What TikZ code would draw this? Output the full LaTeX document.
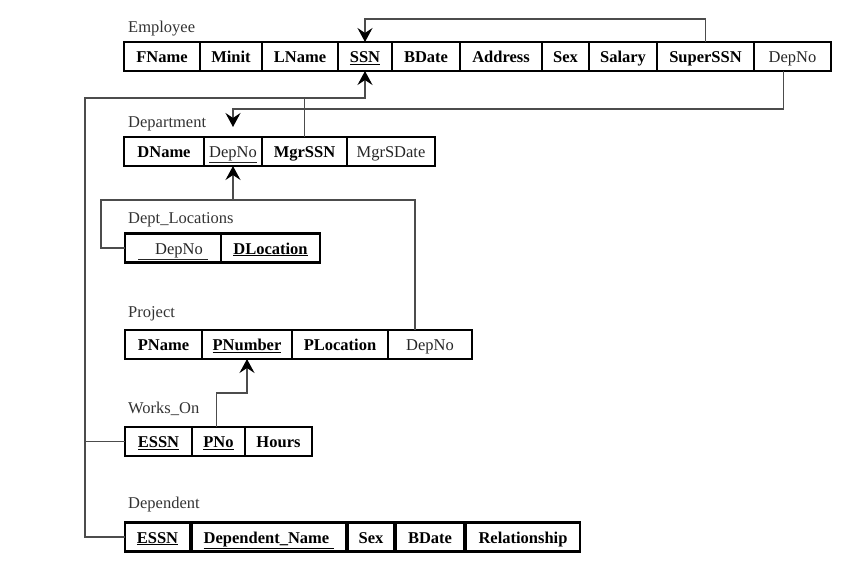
\documentclass[tikz,border=0pt]{standalone}
\usepackage{fontspec}
\setmainfont{Liberation Serif}
\usetikzlibrary{
  arrows.meta,
  positioning
}

\tikzset{
  cell/.style={draw=black, line width=2.4pt, inner sep=0pt, outer sep=0pt, minimum height=29pt,
               text height=12pt, text depth=0pt, font=\fontsize{16.5}{19}\selectfont\bfseries},
  fkcell/.style={cell, line width=1.4pt, font=\fontsize{16.5}{19}\selectfont, text=black!85},
  relname/.style={anchor=base west, inner sep=0pt, font=\fontsize{16.5}{19}\selectfont, text=black!80},
  link/.style={draw=black!70, line width=1.3pt},
  fkarrow/.style={link, -{Stealth[length=14pt, width=15pt, inset=5pt, color=black]}}
}

\begin{document}
\begin{tikzpicture}[x=1pt, y=-1pt]
\useasboundingbox (0,0) rectangle (865,578);

% relation names
\node[relname] (lemp)  at (128,33)  {Employee};
\node[relname] (ldept) at (128,128) {Department};
\node[relname] (lloc)  at (128,223) {Dept\_Locations};
\node[relname] (lproj) at (128,317) {Project};
\node[relname] (lwork) at (128,413) {Works\_On};
\node[relname] (ldepd) at (128,508) {Dependent};

% Employee
\node[cell, minimum width=76pt, anchor=west] (efname) at (124,56.5) {FName};
\node[cell, minimum width=62pt, right=0pt of efname] (eminit) {Minit};
\node[cell, minimum width=76pt, right=0pt of eminit] (elname) {LName};
\node[cell, minimum width=54pt, right=0pt of elname] (essn) {\underline{SSN}};
\node[cell, minimum width=68pt, right=0pt of essn] (ebdate) {BDate};
\node[cell, minimum width=82pt, right=0pt of ebdate] (eaddr) {Address};
\node[cell, minimum width=47pt, right=0pt of eaddr] (esex) {Sex};
\node[cell, minimum width=68pt, right=0pt of esex] (esal) {Salary};
\node[cell, minimum width=97pt, right=0pt of esal] (esuper) {SuperSSN};
\node[fkcell, minimum width=77pt, right=0pt of esuper] (edep) {DepNo};

% Department
\node[cell, minimum width=80pt, anchor=west] (ddname) at (124,151.5) {DName};
\node[fkcell, minimum width=58pt, right=0pt of ddname] (ddep) {\underline{DepNo}};
\node[cell, minimum width=85pt, right=0pt of ddep] (dmgr) {MgrSSN};
\node[fkcell, minimum width=88pt, right=0pt of dmgr] (dmgrdate) {MgrSDate};

% Dept_Locations
\node[fkcell, line width=2.4pt, minimum width=96pt, anchor=west] (ldep) at (125,248) {\underline{\hspace{17pt}DepNo\hspace{5pt}}};
\node[cell, minimum width=99pt, right=0pt of ldep] (lloc) {\underline{DLocation}};

% Project
\node[cell, minimum width=77pt, anchor=west] (pname) at (125,344.5) {PName};
\node[cell, minimum width=90pt, right=0pt of pname] (pnum) {\underline{PNumber}};
\node[cell, minimum width=96pt, right=0pt of pnum] (ploc) {PLocation};
\node[fkcell, minimum width=84pt, right=0pt of ploc] (pdep) {DepNo};

% Works_On
\node[cell, minimum width=67pt, anchor=west] (wessn) at (125,441.5) {\underline{ESSN}};
\node[cell, minimum width=53pt, right=0pt of wessn] (wpno) {\underline{PNo}};
\node[cell, minimum width=67pt, right=0pt of wpno] (whours) {Hours};

% Dependent
\node[cell, minimum width=65pt, anchor=west] (dessn) at (125,537) {\underline{ESSN}};
\node[cell, minimum width=154pt, right=2pt of dessn] (dename) {\underline{Dependent\_Name\hspace{5pt}}};
\node[cell, minimum width=46pt, right=2pt of dename] (desex) {Sex};
\node[cell, minimum width=68pt, right=2pt of desex] (debdate) {BDate};
\node[cell, minimum width=114pt, right=2pt of debdate] (derel) {Relationship};

% foreign keys
\coordinate (ssnbus) at (85,98);
\coordinate (locbus) at (101,200);

\draw[fkarrow] (esuper.north) -- ++(0,-23) -| (essn.north);
\draw[fkarrow, shorten >=10pt] ([xshift=-9pt]edep.south) -- ++(0,38) -| (ddep.north);
\draw[fkarrow] (dessn.west) -| (ssnbus) -| (essn.south);
\draw[link] (wessn.west) -- (wessn.west -| ssnbus);
\draw[link] (dmgr.north) -- (dmgr.north |- ssnbus);
\draw[link] (ldep.west) -| (locbus) -| ([xshift=-15pt]pdep.north);
\draw[fkarrow] (ddep.south |- locbus) -- (ddep.south);
\draw[fkarrow] ([xshift=-2pt]wpno.north) -- ++(0,-34) -| (pnum.south);
\end{tikzpicture}
\end{document}
